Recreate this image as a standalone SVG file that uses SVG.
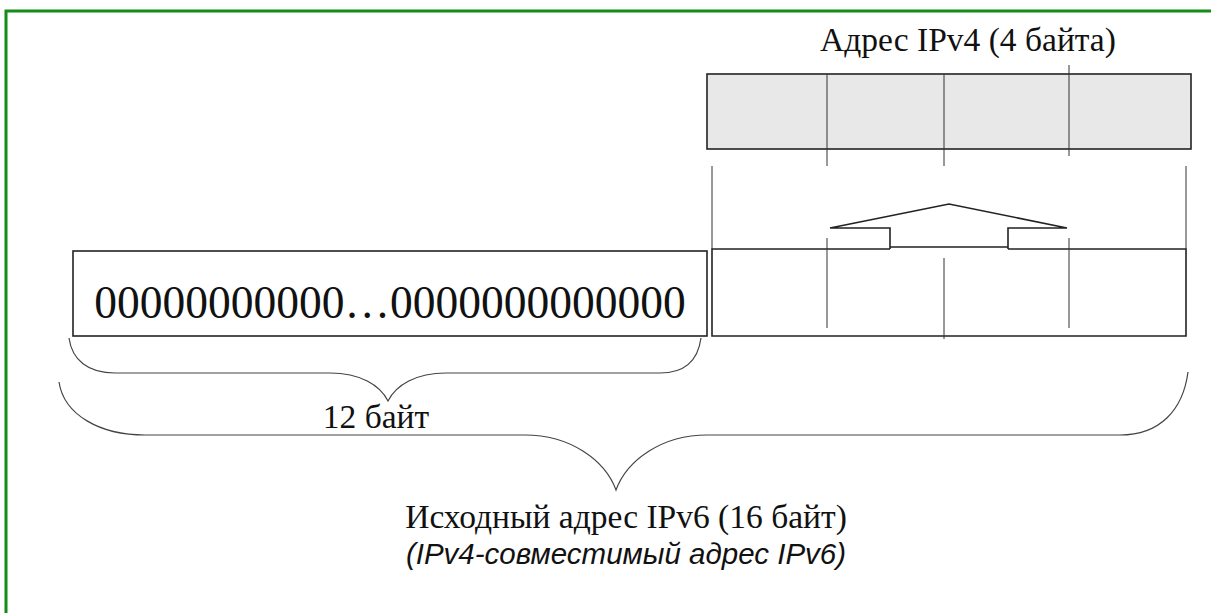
<svg xmlns="http://www.w3.org/2000/svg" width="1211" height="613" viewBox="0 0 1211 613">
<style>
.ln{stroke:#333;stroke-width:1;fill:none}
.bx{stroke:#222;stroke-width:1.6;fill:none}
.serif{font-family:"Liberation Serif","Times New Roman",serif;fill:#111}
.ital{font-family:"Liberation Sans",Arial,sans-serif;font-style:italic;fill:#111}
.br{stroke:#444;stroke-width:1.2;fill:none}
</style>
<rect width="1211" height="613" fill="#fff"/>
<rect x="6" y="11" width="1230" height="640" fill="none" stroke="#158c15" stroke-width="3"/>

<g id="ipv4-title"><text class="serif" x="968" y="51" font-size="33.5" text-anchor="middle">Адрес IPv4 (4 байта)</text></g>

<g id="ipv4-box">
<rect x="707" y="74" width="484" height="75" fill="#e8e8e8" stroke="#222" stroke-width="1.6"/>
</g>

<g id="zeros-box">
<rect class="bx" x="73" y="251" width="634" height="85" fill="#fff"/>
<text class="serif" x="390" y="318" font-size="45.5" text-anchor="middle">00000000000…0000000000000</text>
</g>

<g id="ipv6-tail-box">
<path class="bx" d="M890,249 H712 V336 H1186 V249 H1008"/>
</g>

<g id="arrow">
<polygon class="bx" fill="#fff" points="830,228 949,204 1067,228 1008,228 1008,249 1008,247 890,247 890,249 890,228"/>
</g>

<g id="connectors">
<line class="ln" x1="827" y1="74" x2="827" y2="166"/>
<line class="ln" x1="944" y1="74" x2="944" y2="166"/>
<line class="ln" x1="1069" y1="65" x2="1069" y2="156"/>
<line class="ln" x1="712" y1="166" x2="712" y2="249"/>
<line class="ln" x1="1186" y1="166" x2="1186" y2="249"/>
<line class="ln" x1="827" y1="238" x2="827" y2="328"/>
<line class="ln" x1="944" y1="258" x2="944" y2="339"/>
<line class="ln" x1="1069" y1="238" x2="1069" y2="328"/>
</g>

<g id="brace-12">
<path class="br" d="M69,338 C72,360 88,373 115,373 H330 C360,373 380,385 388,401 C396,385 416,373 446,373 H660 C685,373 698,360 701,338"/>
<text class="serif" x="376" y="428" font-size="33.5" text-anchor="middle">12 байт</text>
</g>

<g id="brace-16">
<path class="br" d="M59,382 C64,415 100,435 145,435 H525 C570,435 605,460 616,490 C627,460 662,435 707,435 H1120 C1160,435 1183,410 1188,372"/>
</g>

<g id="ipv6-label">
<text class="serif" x="626" y="528" font-size="33.5" text-anchor="middle">Исходный адрес IPv6 (16 байт)</text>
<text class="ital" x="626" y="564" font-size="29.5" text-anchor="middle">(IPv4-совместимый адрес IPv6)</text>
</g>
</svg>
